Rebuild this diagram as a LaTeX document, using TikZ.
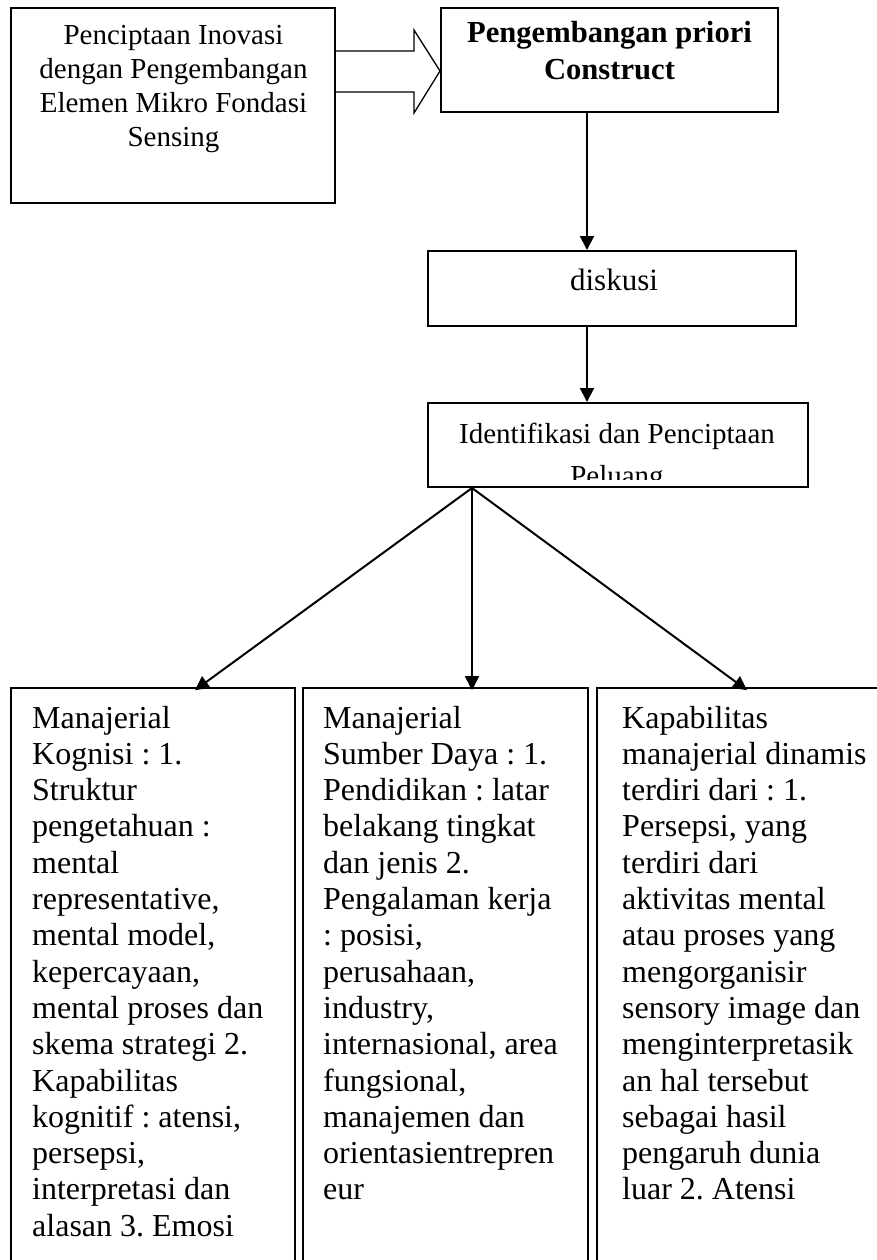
\documentclass[tikz,border=0pt]{standalone}
\usepackage{fontspec}
\setmainfont{Liberation Serif}
\usetikzlibrary{arrows.meta}
\frenchspacing
\begin{document}
\begin{tikzpicture}[x=1pt,y=-1pt,
  box/.style={draw, line width=2pt, inner sep=0pt},
  colbox/.style={draw, line width=1.6pt, inner sep=0pt, minimum height=632pt},
  arr/.style={line width=2pt, -{Triangle[length=14pt,width=14pt]}},
  coltext/.style={anchor=base west, align=left, inner sep=0pt,
    font=\fontsize{32}{36.3}\selectfont},
  hollow/.style={line width=1.3pt, line join=miter}]
\clip (0,0) rectangle (877,1260);

% top row (multi-line texts are placed by the baseline of their last line)
\node[box, minimum width=324pt, minimum height=195pt] (A) at (173,105.5) {};
\node[anchor=base, align=center, inner sep=0pt,
  font=\fontsize{29}{34}\selectfont] (tA) at (173.5,147)
  {Penciptaan Inovasi\\dengan Pengembangan\\Elemen Mikro Fondasi\\Sensing};

\node[box, minimum width=337pt, minimum height=104pt] (B) at (609.5,60) {};
\node[anchor=base, align=center, inner sep=0pt,
  font=\bfseries\fontsize{30.6}{37}\selectfont] (tB) at (609.5,80)
  {Pengembangan priori\\Construct};

% block arrow between the two top boxes
\draw[hollow] (336,51) -- (414,51) -- (414,30) -- (440,71) -- (414,113)
  -- (414,92) -- (336,92);

% middle column
\node[box, minimum width=368pt, minimum height=75pt] (D) at (612,288.5) {};
\node[anchor=base, inner sep=0pt, font=\fontsize{31}{36}\selectfont] (tD)
  at (614,290) {diskusi};

\node[box, minimum width=380pt, minimum height=84pt] (I) at (618,445) {};
\begin{scope}
  \clip (428,403) rectangle (808,479);
  \node[anchor=base, align=center, inner sep=0pt,
    font=\fontsize{29}{42}\selectfont] (tI) at (617,485)
    {Identifikasi dan Penciptaan\\Peluang};
\end{scope}

\coordinate (ax) at (587,0);
\draw[arr] (B.south -| ax) -- (D.north -| ax);
\draw[arr] (D.south -| ax) -- (I.north -| ax);

% bottom columns
\node[colbox, minimum width=284pt] (K) at (153,1004) {};
\node[colbox, minimum width=285pt] (M) at (445.5,1004) {};
\node[colbox, minimum width=363pt] (R) at (778.5,1004) {};

\node[coltext] (tK) at (32,1236.2)
  {Manajerial\\Kognisi : 1.\\Struktur\\pengetahuan :\\mental\\representative,\\mental model,\\kepercayaan,\\mental proses dan\\skema strategi 2.\\Kapabilitas\\kognitif : atensi,\\persepsi,\\interpretasi dan\\alasan 3. Emosi};
\node[coltext] (tM) at (323,1199.9)
  {Manajerial\\Sumber Daya : 1.\\Pendidikan : latar\\belakang tingkat\\dan jenis 2.\\Pengalaman kerja\\: posisi,\\perusahaan,\\industry,\\internasional, area\\fungsional,\\manajemen dan\\orientasientrepren\\eur};
\node[coltext] (tR) at (622,1199.9)
  {Kapabilitas\\manajerial dinamis\\terdiri dari : 1.\\Persepsi, yang\\terdiri dari\\aktivitas mental\\atau proses yang\\mengorganisir\\sensory image dan\\menginterpretasik\\an hal tersebut\\sebagai hasil\\pengaruh dunia\\luar 2. Atensi};

% fork from the opportunity box
\coordinate (fk) at (472,0);
\coordinate (tipL) at (195,0);
\coordinate (tipR) at (747,0);
\draw[arr] (I.south -| fk) -- ([yshift=-3pt]K.north -| tipL);
\draw[arr] (I.south -| fk) -- ([yshift=-3pt]M.north -| fk);
\draw[arr] (I.south -| fk) -- ([yshift=-3pt]R.north -| tipR);
\end{tikzpicture}
\end{document}
